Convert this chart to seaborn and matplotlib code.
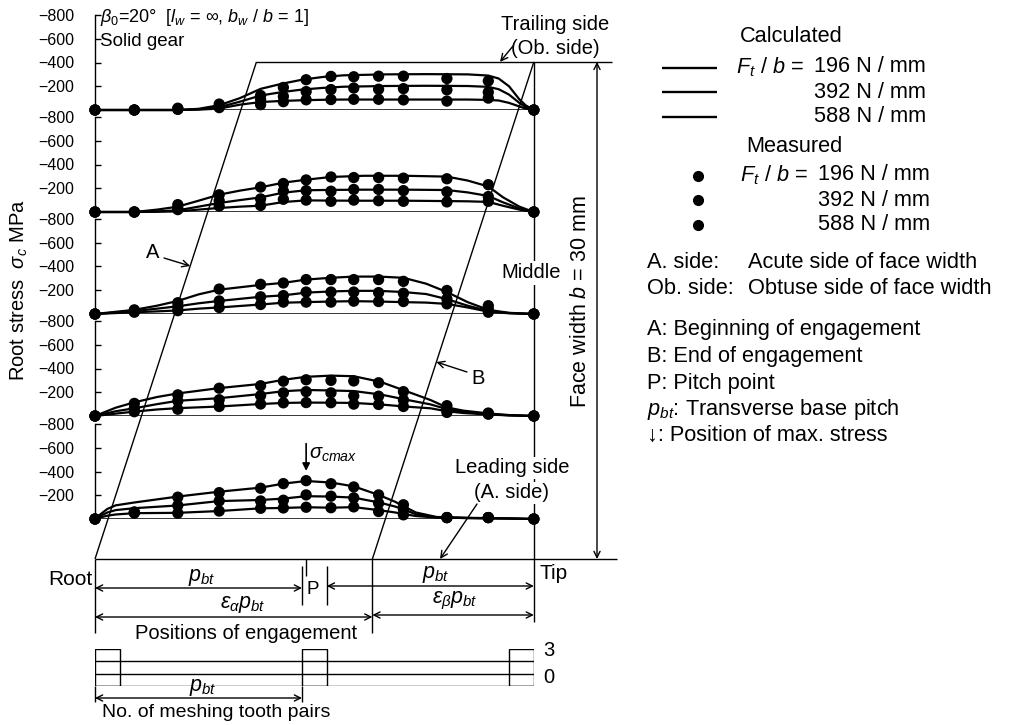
import matplotlib
matplotlib.use("Agg")
import matplotlib.pyplot as plt
import matplotlib.transforms as mtransforms
import numpy as np
import pandas as pd
import seaborn as sns

# ---------------------------------------------------------------- data
# Positions of engagement along the path of contact, in units of p_bt
MEAS_POS = [0.0, 0.19, 0.40, 0.60, 0.80, 0.91, 1.02, 1.14, 1.25, 1.37, 1.49, 1.70, 1.90, 2.12]
LOAD_LABELS = ["196 N / mm", "392 N / mm", "588 N / mm"]

# Section 1 - trailing side (obtuse side)
s1_calc_pos = [0.0, 0.40, 0.50, 0.60, 0.70, 0.80, 0.90, 1.00, 1.10, 1.20, 1.40, 1.60, 1.80, 1.90, 1.95, 2.00, 2.05, 2.08, 2.12]
s1_calc_196 = [0, 0, -3, -12, -45, -67, -76, -82, -86, -88, -88, -88, -88, -85, -80, -60, -30, -12, 0]
s1_calc_392 = [0, 0, -6, -24, -70, -122, -150, -172, -186, -196, -202, -204, -202, -195, -175, -130, -60, -25, 0]
s1_calc_588 = [0, 0, -10, -40, -100, -178, -220, -255, -278, -292, -300, -302, -300, -290, -265, -200, -90, -40, 0]
s1_meas_196 = [0, 0, -5, -20, -45, -70, -86, -88, -90, -90, -85, -75, -100, 0]
s1_meas_392 = [0, 0, -10, -30, -88, -115, -155, -172, -185, -175, -180, -170, -150, 0]
s1_meas_588 = [0, 0, -15, -50, -122, -190, -255, -283, -280, -285, -285, -265, -245, 0]

# Section 2
s2_calc_pos = [0.0, 0.19, 0.30, 0.40, 0.50, 0.60, 0.70, 0.80, 0.91, 1.02, 1.14, 1.30, 1.50, 1.70, 1.80, 1.90, 1.97, 2.05, 2.12]
s2_calc_196 = [0, 0, -2, -5, -20, -34, -45, -53, -84, -98, -96, -95, -95, -92, -90, -85, -53, -20, 0]
s2_calc_392 = [0, 0, -5, -14, -45, -76, -100, -123, -163, -183, -186, -188, -188, -185, -165, -135, -82, -30, 0]
s2_calc_588 = [0, 0, -20, -45, -95, -146, -180, -208, -247, -272, -295, -305, -305, -298, -265, -215, -125, -45, 0]
s2_meas_196 = [0, 0, -20, -50, -55, -107, -100, -90, -100, -95, -90, -85, -90, 0]
s2_meas_392 = [0, 0, -35, -95, -110, -177, -180, -175, -190, -190, -180, -170, -130, 0]
s2_meas_588 = [0, 0, -62, -145, -210, -240, -270, -295, -290, -290, -285, -280, -230, 0]

# Section 3 - middle of face width
s3_calc_pos = [0.0, 0.19, 0.30, 0.40, 0.50, 0.60, 0.80, 0.91, 1.02, 1.14, 1.25, 1.37, 1.49, 1.60, 1.70, 1.80, 1.90, 2.00, 2.12]
s3_calc_196 = [0, -15, -22, -30, -45, -55, -80, -95, -100, -105, -108, -105, -100, -96, -85, -55, -20, -6, 0]
s3_calc_392 = [0, -25, -45, -65, -90, -110, -145, -157, -180, -190, -195, -195, -185, -168, -125, -70, -25, -8, 0]
s3_calc_588 = [0, -35, -70, -110, -165, -205, -245, -262, -290, -305, -315, -315, -305, -255, -185, -100, -35, -10, 0]
s3_meas_196 = [0, -15, -28, -55, -80, -100, -100, -100, -108, -105, -105, -85, -15, 0]
s3_meas_392 = [0, -25, -60, -110, -145, -155, -185, -185, -185, -180, -175, -127, -40, 0]
s3_meas_588 = [0, -35, -95, -210, -250, -261, -290, -290, -290, -290, -275, -198, -70, 0]

# Section 4
s4_calc_pos = [0.0, 0.05, 0.10, 0.19, 0.30, 0.40, 0.60, 0.80, 0.91, 1.02, 1.14, 1.25, 1.38, 1.51, 1.62, 1.70, 1.78, 1.91, 2.00, 2.12]
s4_calc_196 = [0, -10, -20, -37, -55, -66, -80, -101, -110, -113, -112, -110, -97, -78, -65, -40, -25, -12, -5, 0]
s4_calc_392 = [0, -20, -40, -65, -100, -128, -150, -185, -209, -219, -215, -210, -181, -135, -98, -58, -35, -15, -6, 0]
s4_calc_588 = [0, -35, -70, -115, -160, -190, -235, -270, -305, -330, -340, -335, -287, -205, -135, -72, -45, -20, -8, 0]
s4_meas_196 = [0, -36, -57, -80, -101, -111, -113, -112, -100, -97, -80, -30, -15, 0]
s4_meas_392 = [0, -64, -127, -137, -171, -195, -205, -195, -170, -167, -135, -58, -20, 0]
s4_meas_588 = [0, -106, -178, -234, -255, -293, -305, -300, -295, -280, -205, -87, -25, 0]

# Section 5 - leading side (acute side)
s5_calc_pos = [0.0, 0.03, 0.06, 0.10, 0.19, 0.40, 0.60, 0.80, 0.91, 1.02, 1.14, 1.25, 1.37, 1.45, 1.49, 1.55, 1.65, 1.80, 2.00, 2.12]
s5_calc_196 = [0, -15, -28, -38, -49, -52, -67, -90, -93, -99, -95, -100, -75, -55, -42, -25, -12, -8, -4, 0]
s5_calc_392 = [0, -30, -55, -75, -91, -114, -151, -160, -172, -192, -189, -180, -140, -105, -80, -40, -14, -8, -4, 0]
s5_calc_588 = [0, -45, -85, -115, -139, -189, -230, -264, -298, -320, -307, -275, -203, -145, -108, -55, -17, -10, -5, 0]
s5_meas_196 = [0, -50, -49, -67, -90, -93, -99, -95, -102, -63, -35, -12, -12, 0]
s5_meas_392 = [0, -55, -114, -152, -152, -158, -203, -192, -178, -133, -80, -12, -12, 0]
s5_meas_588 = [0, -60, -184, -222, -259, -298, -323, -297, -270, -203, -120, -12, -12, 0]

# Contact geometry
EPS_ALPHA = 1.34          # transverse contact ratio
EPS_BETA = 0.78           # overlap ratio
PITCH_POINT = 1.02        # position of pitch point P
FACE_WIDTH = 30           # mm
ZONE_START = [0.0, 1.00, 2.00]   # zones with three meshing tooth pairs
ZONE_END = [0.12, 1.12, 2.12]
PAIR_LEVELS = [0, 1, 2]
PAIR_MAX = 3
TIP = EPS_ALPHA + EPS_BETA

# ---------------------------------------------------------------- style
sns.set_theme(style="white")
plt.rcParams["font.family"] = ["Liberation Sans", "DejaVu Sans"]
plt.rcParams["mathtext.fontset"] = "custom"
plt.rcParams["mathtext.rm"] = "Liberation Sans"
plt.rcParams["mathtext.it"] = "Liberation Sans:italic"
plt.rcParams["mathtext.bf"] = "Liberation Sans:bold"
plt.rcParams["axes.edgecolor"] = "black"
plt.rcParams["text.color"] = "black"
plt.rcParams["ytick.color"] = "black"

W, H, DPI = 1011, 725, 100
fig = plt.figure(figsize=(W / DPI, H / DPI), dpi=DPI)
fig.patch.set_facecolor("white")
pix = mtransforms.Affine2D().scale(1.0 / W, -1.0 / H).translate(0, 1) + fig.transFigure

# layout of the diagram (pixels)
X0, KX = 95.0, 207.0       # root position, pixels per p_bt
Y0, KY = 559.0, 16.57      # leading-side line, pixels per mm of face width
SECTION_BASE = [110, 212, 314, 416, 519]
PANEL_H = 95

def spx(px):
    return (px - X0) / KX

def zpx(py):
    return (Y0 - py) / KY

LW = 1.0
line_kw = dict(color="black", lw=LW, solid_capstyle="butt")

# ---------------------------------------------------------------- engagement diagram
ax = fig.add_axes([0, 0, 1, 1])
ax.set_xlim(-X0 / KX, (W - X0) / KX)
ax.set_ylim((Y0 - H) / KY, Y0 / KY)
ax.axis("off")

ax.plot([0, EPS_BETA], [0, FACE_WIDTH], **line_kw)                 # line A
ax.plot([EPS_ALPHA, TIP], [0, FACE_WIDTH], **line_kw)              # line B
ax.plot([EPS_BETA, spx(612)], [FACE_WIDTH, FACE_WIDTH], **line_kw)  # trailing side
ax.plot([0, spx(617)], [0, 0], **line_kw)                          # leading side
ax.plot([TIP, TIP], [FACE_WIDTH, zpx(622)], **line_kw)
ax.plot([0, 0], [0, zpx(633)], **line_kw)
ax.plot([EPS_ALPHA, EPS_ALPHA], [0, zpx(633)], **line_kw)
for s in (1.0, TIP - 1.0):
    ax.plot([s, s], [zpx(566), zpx(605)], **line_kw)
ax.plot([PITCH_POINT, PITCH_POINT], [0, zpx(576)], **line_kw)

dim = dict(arrowstyle="<->", lw=LW, color="black", shrinkA=0, shrinkB=0, mutation_scale=11)
ax.annotate("", xy=(1.0, zpx(588)), xytext=(0, zpx(588)), arrowprops=dim)
ax.annotate("", xy=(TIP, zpx(586)), xytext=(TIP - 1.0, zpx(586)), arrowprops=dim)
ax.annotate("", xy=(EPS_ALPHA, zpx(617)), xytext=(0, zpx(617)), arrowprops=dim)
ax.annotate("", xy=(TIP, zpx(615)), xytext=(EPS_ALPHA, zpx(615)), arrowprops=dim)
ax.annotate("", xy=(spx(597), FACE_WIDTH), xytext=(spx(597), 0), arrowprops=dim)

# number of meshing tooth pairs
axm = fig.add_axes([X0 / W, 1 - 686 / H, TIP * KX / W, 37 / H])
axm.set_xlim(0, TIP)
axm.set_ylim(0, PAIR_MAX)
axm.axis("off")
axm.hlines(PAIR_LEVELS, 0, TIP, color="black", lw=LW)
axm.bar(ZONE_START, PAIR_MAX, width=np.subtract(ZONE_END, ZONE_START), align="edge",
        fill=False, edgecolor="black", linewidth=LW)
ax.plot([0, 0], [zpx(686), zpx(702)], **line_kw)
ax.plot([1.0, 1.0], [zpx(686), zpx(702)], **line_kw)
ax.annotate("", xy=(1.0, zpx(698)), xytext=(0, zpx(698)), arrowprops=dim)

# ---------------------------------------------------------------- root stress sections
sections = [
    (s1_calc_pos, (s1_calc_196, s1_calc_392, s1_calc_588), (s1_meas_196, s1_meas_392, s1_meas_588)),
    (s2_calc_pos, (s2_calc_196, s2_calc_392, s2_calc_588), (s2_meas_196, s2_meas_392, s2_meas_588)),
    (s3_calc_pos, (s3_calc_196, s3_calc_392, s3_calc_588), (s3_meas_196, s3_meas_392, s3_meas_588)),
    (s4_calc_pos, (s4_calc_196, s4_calc_392, s4_calc_588), (s4_meas_196, s4_meas_392, s4_meas_588)),
    (s5_calc_pos, (s5_calc_196, s5_calc_392, s5_calc_588), (s5_meas_196, s5_meas_392, s5_meas_588)),
]
black3 = {lab: "black" for lab in LOAD_LABELS}
panels = []
for base, (cpos, calc, meas) in zip(SECTION_BASE, sections):
    pa = fig.add_axes([X0 / W, 1 - base / H, TIP * KX / W, PANEL_H / H])
    pa.patch.set_alpha(0)
    calc_df = pd.DataFrame({
        "pos": list(cpos) * 3,
        "stress": [v for series in calc for v in series],
        "load": [lab for lab in LOAD_LABELS for _ in cpos],
    })
    meas_df = pd.DataFrame({
        "pos": MEAS_POS * 3,
        "stress": [v for series in meas for v in series],
        "load": [lab for lab in LOAD_LABELS for _ in MEAS_POS],
    })
    pa.axhline(0, color="black", lw=1.1, zorder=1)
    sns.lineplot(data=calc_df, x="pos", y="stress", hue="load", palette=black3,
                 estimator=None, sort=False, legend=False, lw=1.6, ax=pa,
                 clip_on=False, zorder=2)
    sns.scatterplot(data=meas_df, x="pos", y="stress", color="black", s=66,
                    edgecolor="none", legend=False, ax=pa, clip_on=False, zorder=3)
    pa.set_xlim(0, TIP)
    pa.set_ylim(0, -800)
    pa.set_xlabel("")
    pa.set_ylabel("")
    pa.set_xticks([])
    pa.set_yticks([-800, -600, -400, -200])
    pa.set_yticklabels(["\u2212800", "\u2212600", "\u2212400", "\u2212200"])
    pa.tick_params(axis="y", direction="in", length=4, width=LW, pad=15,
                   labelsize=11.5, left=True)
    for side in ("top", "right", "bottom"):
        pa.spines[side].set_visible(False)
    pa.spines["left"].set_linewidth(LW)
    pa.spines["left"].set_bounds(-800, 0)
    panels.append(pa)

# position of maximum stress on the leading side
lead = panels[-1]
i_max = MEAS_POS.index(PITCH_POINT)
lead.annotate("", xy=(PITCH_POINT, s5_meas_588[i_max]), xytext=(0, 37),
              textcoords="offset pixels",
              arrowprops=dict(arrowstyle="-|>", lw=1.2, color="black",
                              shrinkA=0, shrinkB=7, mutation_scale=11))
lead.annotate(r"$\sigma_{cmax}$", xy=(PITCH_POINT, s5_meas_588[i_max]), xytext=(3, 26),
              textcoords="offset pixels", fontsize=14.5, ha="left", va="center")

# ---------------------------------------------------------------- text
def t(x, y, s, **kw):
    kw.setdefault("fontsize", 14.5)
    kw.setdefault("va", "center")
    return ax.text(x, y, s, transform=pix, **kw)

t(100, 18, r"$\beta_0$=20°  [$l_w$ = ∞, $b_w$ / $b$ = 1]", fontsize=13)
t(100, 42, "Solid gear", fontsize=13.5)
t(19, 290, r"Root stress  $\sigma_c$ MPa", rotation=90, ha="center", fontsize=14.5)

t(555, 25, "Trailing side", ha="center")
t(555, 49, "(Ob. side)", ha="center")
arrow_kw = dict(arrowstyle="->", lw=LW, color="black", shrinkA=0, shrinkB=0, mutation_scale=12)
ax.annotate("", xy=(spx(500), FACE_WIDTH), xytext=(513, 46), textcoords=pix, arrowprops=arrow_kw)

t(581, 302, r"Face width $b$ = 30 mm", rotation=90, ha="center", fontsize=15.5)
t(531, 273, "Middle", ha="center", bbox=dict(fc="white", ec="none", pad=1.5))

t(153, 253, "A", ha="center")
zA = zpx(266)
ax.annotate("", xy=(EPS_BETA * zA / FACE_WIDTH, zA), xytext=(164, 258), textcoords=pix,
            arrowprops=arrow_kw)
t(478, 379, "B", ha="center")
zB = zpx(362)
ax.annotate("", xy=(EPS_ALPHA + EPS_BETA * zB / FACE_WIDTH, zB), xytext=(467, 372),
            textcoords=pix, arrowprops=arrow_kw)

t(512, 468, "Leading side", ha="center", bbox=dict(fc="white", ec="none", pad=1.0))
t(512, 493, "(A. side)", ha="center", bbox=dict(fc="white", ec="none", pad=1.0))
ax.annotate("", xy=(spx(440), 0), xytext=(477, 504), textcoords=pix, arrowprops=arrow_kw)

t(93, 580, "Root", ha="right", fontsize=15)
t(539, 574, "Tip", ha="left", fontsize=15)
t(202, 578, r"$p_{bt}$", ha="center", fontsize=15.5)
t(436, 575, r"$p_{bt}$", ha="center", fontsize=15.5)
t(313, 590, "P", ha="center", fontsize=13.5)
t(243, 605, r"$\varepsilon_{\alpha} p_{bt}$", ha="center", fontsize=15.5)
t(455, 601, r"$\varepsilon_{\beta} p_{bt}$", ha="center", fontsize=15.5)
t(246, 634, "Positions of engagement", ha="center")
t(543, 651, "3", ha="left")
t(543, 678, "0", ha="left")
t(203, 688, r"$p_{bt}$", ha="center", fontsize=15.5)
t(216, 713, "No. of meshing tooth pairs", ha="center", fontsize=14)

# legend block
LEG_FS = 15.7
t(740, 37, "Calculated", fontsize=LEG_FS)
for y in (68, 92, 117):
    ax.plot([662, 717], [y, y], transform=pix, color="black", lw=1.7, solid_capstyle="butt")
t(736, 67, r"$F_t$ / $b$ =", fontsize=LEG_FS)
for y, lab in zip((67, 92, 117), LOAD_LABELS):
    t(926, y, lab, ha="right", fontsize=LEG_FS)
t(746, 147, "Measured", fontsize=LEG_FS)
for y in (176, 200, 225):
    ax.plot([698], [y], transform=pix, marker="o", ms=7, color="black", ls="none")
t(740, 175, r"$F_t$ / $b$ =", fontsize=LEG_FS)
for y, lab in zip((175, 200, 224), LOAD_LABELS):
    t(930, y, lab, ha="right", fontsize=LEG_FS)

t(647, 263, "A. side:", fontsize=LEG_FS)
t(748, 263, "Acute side of face width", fontsize=LEG_FS)
t(647, 289, "Ob. side:", fontsize=LEG_FS)
t(748, 289, "Obtuse side of face width", fontsize=LEG_FS)
t(647, 330, "A: Beginning of engagement", fontsize=LEG_FS)
t(647, 357, "B: End of engagement", fontsize=LEG_FS)
t(647, 384, "P: Pitch point", fontsize=LEG_FS)
t(647, 410, r"$p_{bt}$: Transverse base pitch", fontsize=LEG_FS)
t(647, 436, "\u2193: Position of max. stress", fontsize=LEG_FS)

fig.savefig("out.png", dpi=DPI, facecolor="white")
